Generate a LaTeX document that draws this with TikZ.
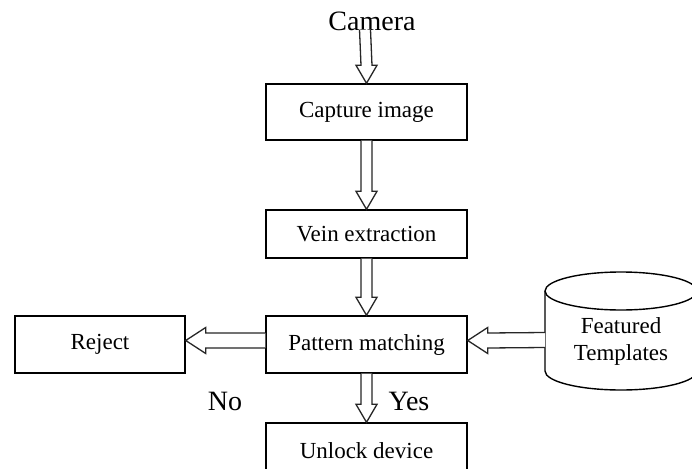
\documentclass[tikz,border=0pt]{standalone}
\usepackage{fontspec}
\setmainfont{Liberation Serif}
\usetikzlibrary{calc}
\tikzset{
  box/.style={draw=black, line width=1.4pt, minimum width=201pt, inner sep=0pt, font=\fontsize{23}{27}\selectfont},
  lbl/.style={inner sep=0pt, font=\fontsize{28}{32}\selectfont},
  hollow/.style={draw=black!85, line width=1.3pt, fill=white, line join=miter},
  cyl/.style={draw=black, line width=1.4pt},
}
% vertical hollow arrow: #1 start coordinate, #2 tip coordinate
\newcommand{\vhollow}[2]{%
  \draw[hollow] ($(#1)+(-5.5,0)$) -- ($(#2)+(-5.5,-18)$) -- ($(#2)+(-10.5,-18)$) -- (#2)
    -- ($(#2)+(10.5,-18)$) -- ($(#2)+(5.5,-18)$) -- ($(#1)+(5.5,0)$);}
% horizontal hollow arrow pointing left: #1 start, #2 tip
\newcommand{\hhollow}[2]{%
  \draw[hollow] ($(#1)+(0,-7.5)$) -- ($(#2)+(20,-7.5)$) -- ($(#2)+(20,-13)$) -- (#2)
    -- ($(#2)+(20,13)$) -- ($(#2)+(20,7.5)$) -- ($(#1)+(0,7.5)$);}
\begin{document}
\begin{tikzpicture}[x=1pt, y=-1pt]
\useasboundingbox (0,0) rectangle (692,468);
\clip (0,0) rectangle (692,468);

\node[lbl] (cam) at (372,21) {Camera};
\node[box, minimum height=56pt] (cap) at (366.5,112) {Capture image};
\node[box, minimum height=48pt] (vein) at (366.5,234) {Vein extraction};
\node[box, minimum height=57pt] (pm) at (366.5,344.5) {Pattern matching};
\node[box, minimum height=56pt] (unl) at (366.5,451) {Unlock device};
\node[box, minimum width=170pt, minimum height=57pt] (rej) at (100,344.5) {Reject};
\node[inner sep=0pt, align=center, font=\fontsize{23}{27}\selectfont] (db) at (621,341) {Featured\\Templates};
\node[lbl] (no) at (225,401) {No};
\node[lbl] (yes) at (409,401) {Yes};

% cylinder around db
\coordinate (dbtop) at ($(db)+(0,-50)$);
\coordinate (dbleft) at ($(db)+(-76,-1)$);
\draw[cyl] ($(dbtop)+(-76,0)$) -- ($(dbtop)+(-76,80)$)
  arc[start angle=180, end angle=360, x radius=76pt, y radius=19pt]
  -- ($(dbtop)+(76,0)$);
\draw[cyl] (dbtop) ellipse [x radius=76pt, y radius=19pt];

% connectors
\coordinate (camfoot) at ($(cam.south)+(-7,-1)$);
\coordinate (captop) at (cap.north);
\vhollow{camfoot}{captop}
\vhollow{cap.south}{vein.north}
\vhollow{vein.south}{pm.north}
\vhollow{pm.south}{unl.north}
\coordinate (pmw) at ($(pm.west)+(0,-4)$);
\coordinate (rejtip) at ($(rej.east)+(0,-4)$);
\hhollow{pmw}{rejtip}
\coordinate (pmtip) at ($(pm.east)+(0,-4)$);
\hhollow{dbleft}{pmtip}
\end{tikzpicture}
\end{document}
